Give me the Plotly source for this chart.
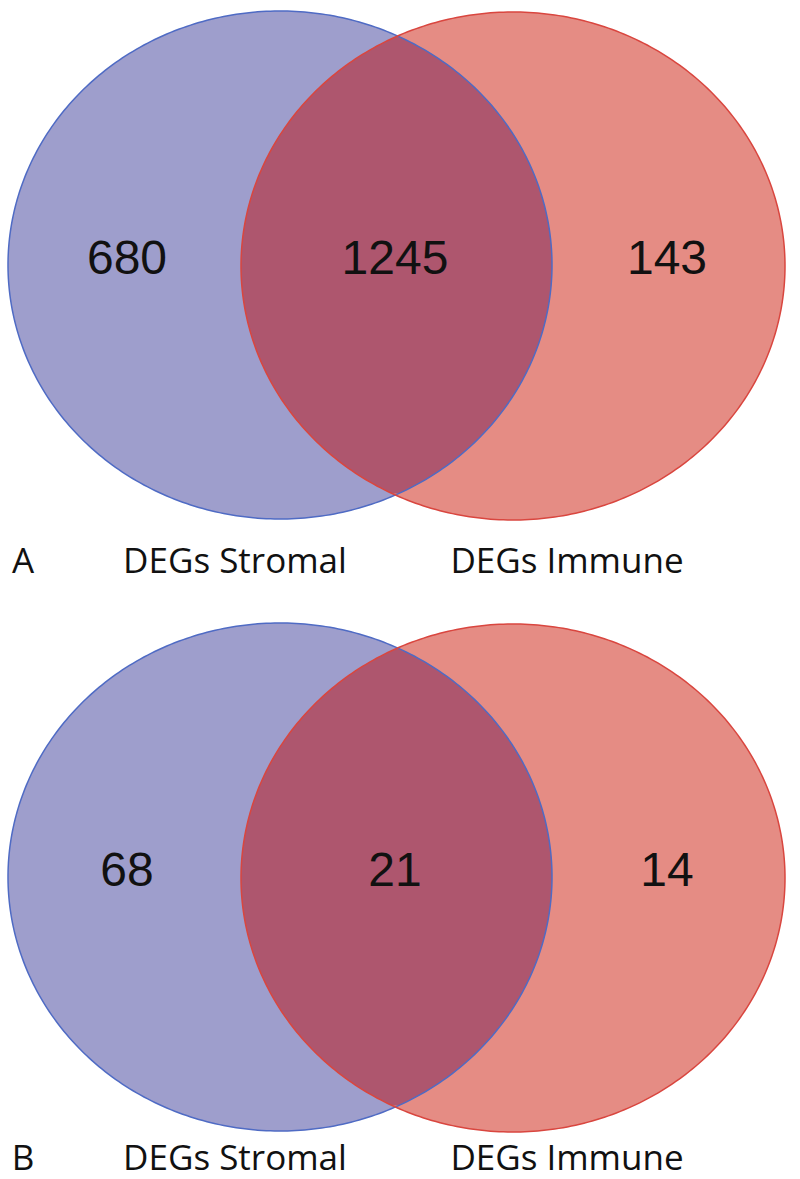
import numpy as np
import plotly.graph_objects as go

# data
set_names = ["DEGs Stromal", "DEGs Immune"]
panel_labels = ["A", "B"]
only_stromal = [680, 68]
shared = [1245, 21]
only_immune = [143, 14]

blue_fill = "#9e9ecc"
red_fill = "#e58c84"
lens_fill = "#ae566e"
blue_edge = "#4f6bc4"
red_edge = "#d9463f"

W, H = 800, 1179
panel_top = [0, 612]
label_y = [564, 1161]

# ellipse geometry (pixels, relative to panel top)
blue_c, red_c = (280, 265), (513, 266)
rx, ry = 272, 254


def ellipse_pts(c, n=400):
    t = np.linspace(0, 2 * np.pi, n)
    return c[0] + rx * np.cos(t), c[1] + ry * np.sin(t)


def inside(x, y, c):
    return ((x - c[0]) / rx) ** 2 + ((y - c[1]) / ry) ** 2 <= 1.0


def to_path(x, y):
    return "M " + " L ".join(f"{a:.2f},{b:.2f}" for a, b in zip(x, y)) + " Z"


fig = go.Figure()
shapes = []

for i, top in enumerate(panel_top):
    bc = (blue_c[0], blue_c[1] + top)
    rc = (red_c[0], red_c[1] + top)
    bx, by = ellipse_pts(bc)
    qx, qy = ellipse_pts(rc)

    # lens = points of each ellipse lying inside the other, sorted by angle
    lx = np.concatenate([bx[inside(bx, by, rc)], qx[inside(qx, qy, bc)]])
    ly = np.concatenate([by[inside(bx, by, rc)], qy[inside(qx, qy, bc)]])
    mx, my = lx.mean(), ly.mean()
    order = np.argsort(np.arctan2(ly - my, lx - mx))
    lx, ly = lx[order], ly[order]

    shapes.append(dict(type="path", path=to_path(bx, by), fillcolor=blue_fill,
                       line=dict(width=0), layer="below"))
    shapes.append(dict(type="path", path=to_path(qx, qy), fillcolor=red_fill,
                       line=dict(width=0), layer="below"))
    shapes.append(dict(type="path", path=to_path(lx, ly), fillcolor=lens_fill,
                       line=dict(width=0), layer="below"))
    shapes.append(dict(type="path", path=to_path(bx, by), fillcolor="rgba(0,0,0,0)",
                       line=dict(color=blue_edge, width=1.5), layer="below"))
    shapes.append(dict(type="path", path=to_path(qx, qy), fillcolor="rgba(0,0,0,0)",
                       line=dict(color=red_edge, width=1.5), layer="below"))

    cy = 262 + top
    fig.add_trace(go.Scatter(
        x=[127, 395, 667],
        y=[cy, cy, cy],
        mode="text",
        text=[str(only_stromal[i]), str(shared[i]), str(only_immune[i])],
        textfont=dict(family="Liberation Sans, Arial", size=48, color="#111111"),
        hoverinfo="skip",
        showlegend=False,
    ))

    fig.add_trace(go.Scatter(
        x=[23, 235, 567],
        y=[label_y[i]] * 3,
        mode="text",
        text=[panel_labels[i]] + set_names,
        textfont=dict(family="Open Sans", size=35, color="#111111"),
        hoverinfo="skip",
        showlegend=False,
    ))

fig.update_layout(
    width=W, height=H,
    margin=dict(l=0, r=0, t=0, b=0),
    paper_bgcolor="white", plot_bgcolor="white",
    shapes=shapes,
    xaxis=dict(range=[0, W], visible=False, fixedrange=True),
    yaxis=dict(range=[H, 0], visible=False, fixedrange=True),
)

fig.write_html("out.html", config={"displayModeBar": False},
               post_script="document.body.style.margin='0';")
